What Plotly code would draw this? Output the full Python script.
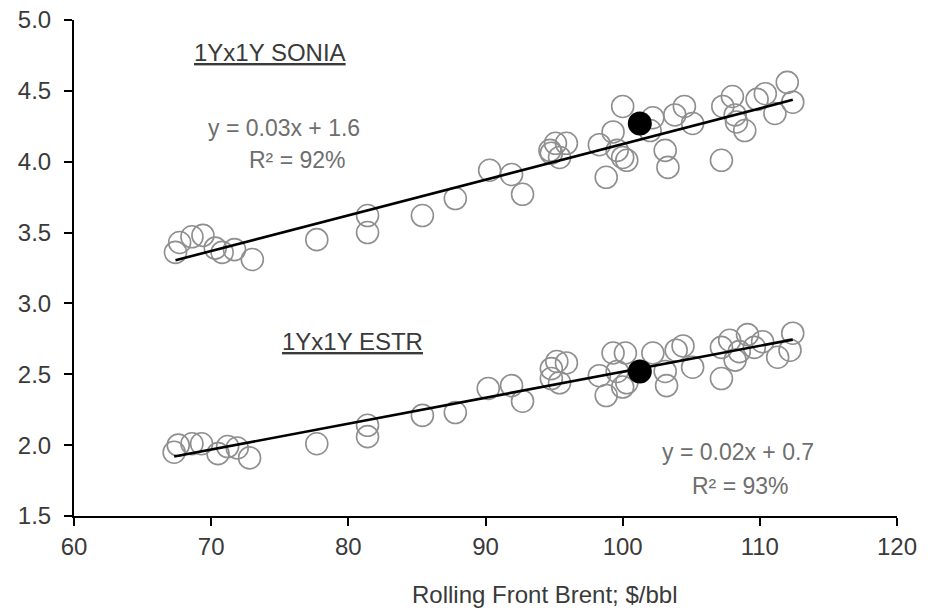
import numpy as np
import plotly.graph_objects as go

sonia_x = [67.4, 67.7, 68.6, 69.4, 70.3, 70.8, 71.7, 73.0, 77.7, 81.4, 81.4, 85.4, 87.8,
           90.3, 91.9, 92.7, 94.7, 95.1, 95.9, 95.4, 94.8, 98.3, 99.3, 98.8, 99.6, 100.0,
           100.0, 100.3, 102.0, 102.2, 103.1, 103.3, 103.8, 104.5, 105.1, 107.2, 107.3,
           108.0, 108.2, 108.3, 108.9, 109.8, 110.4, 111.1, 112.0, 112.4]
sonia_y = [3.36, 3.43, 3.47, 3.48, 3.39, 3.36, 3.38, 3.31, 3.45, 3.62, 3.50, 3.62, 3.74,
           3.94, 3.91, 3.77, 4.08, 4.13, 4.13, 4.03, 4.06, 4.12, 4.21, 3.89, 4.08, 4.03,
           4.39, 4.01, 4.22, 4.31, 4.08, 3.96, 4.33, 4.39, 4.27, 4.01, 4.39,
           4.46, 4.33, 4.28, 4.22, 4.44, 4.48, 4.34, 4.56, 4.42]

estr_x = [67.3, 67.6, 68.6, 69.3, 70.5, 71.2, 71.9, 72.8, 77.7, 81.4, 81.4, 85.4, 87.8,
          90.2, 91.9, 92.7, 94.8, 95.2, 95.9, 94.8, 95.4, 98.3, 99.3, 98.8, 99.6, 100.0,
          100.2, 100.3, 102.2, 103.2, 103.1, 103.9, 104.4, 105.1, 107.2, 107.2, 107.8,
          108.2, 108.5, 109.1, 109.6, 110.2, 111.3, 112.2, 112.4]
estr_y = [1.95, 2.00, 2.01, 2.01, 1.94, 1.99, 1.98, 1.91, 2.01, 2.14, 2.06, 2.21, 2.23,
          2.40, 2.42, 2.31, 2.54, 2.59, 2.58, 2.47, 2.44, 2.49, 2.65, 2.35, 2.52, 2.41,
          2.65, 2.44, 2.65, 2.42, 2.52, 2.67, 2.70, 2.55, 2.47, 2.69, 2.74,
          2.60, 2.66, 2.78, 2.69, 2.73, 2.62, 2.67, 2.79]

latest_x = [101.25, 101.25]
latest_y = [4.27, 2.52]

x_ticks = [60, 70, 80, 90, 100, 110, 120]
y_ticks = [1.5, 2.0, 2.5, 3.0, 3.5, 4.0, 4.5, 5.0]

FONT = "Liberation Sans, Arial, sans-serif"
DARK = "#3a3a3a"
GRAY = "#6e6e6e"

fig = go.Figure()

for xs, ys in [(sonia_x, sonia_y), (estr_x, estr_y)]:
    fig.add_trace(go.Scatter(
        x=xs, y=ys, mode="markers",
        marker=dict(symbol="circle-open", size=22, color="#8f8f8f", line=dict(width=1.6)),
        showlegend=False, hoverinfo="skip"))

for xs, ys in [(sonia_x, sonia_y), (estr_x, estr_y)]:
    m, b = np.polyfit(xs, ys, 1)
    lx = np.array([min(xs), max(xs)])
    fig.add_trace(go.Scatter(
        x=lx, y=m * lx + b, mode="lines",
        line=dict(color="black", width=2.6), showlegend=False, hoverinfo="skip"))

fig.add_trace(go.Scatter(
    x=latest_x, y=latest_y, mode="markers",
    marker=dict(symbol="circle", size=24, color="black"),
    showlegend=False, hoverinfo="skip"))

txt = dict(family=FONT, size=24, color=DARK)
gray = dict(family=FONT, size=23, color=GRAY)
annos = [
    dict(x=74.3, y=4.77, text="<u>1Yx1Y SONIA</u>", font=txt),
    dict(x=75.3, y=4.24, text="y = 0.03x + 1.6", font=gray),
    dict(x=76.3, y=4.01, text="R² = 92%", font=gray),
    dict(x=80.3, y=2.73, text="<u>1Yx1Y ESTR</u>", font=txt),
    dict(x=108.4, y=1.95, text="y = 0.02x + 0.7", font=gray),
    dict(x=108.6, y=1.71, text="R² = 93%", font=gray),
]
for a in annos:
    fig.add_annotation(xref="x", yref="y", showarrow=False, xanchor="center", yanchor="middle", **a)

fig.add_annotation(xref="paper", yref="paper", x=0.572, y=-0.159, showarrow=False,
                   xanchor="center", yanchor="middle", text="Rolling Front Brent; $/bbl",
                   font=dict(family=FONT, size=24, color=DARK))

fig.update_layout(
    width=930, height=611,
    margin=dict(l=74, r=33, t=20, b=95),
    paper_bgcolor="white", plot_bgcolor="white",
    font=dict(family=FONT, size=24, color=DARK),
    xaxis=dict(range=[60, 120], tickvals=x_ticks, ticktext=[str(v) for v in x_ticks],
               showgrid=False, zeroline=False, showline=True, linecolor="black", linewidth=2,
               ticks="outside", ticklen=8, tickwidth=2, tickcolor="black",
               automargin=False,
               tickfont=dict(family=FONT, size=24, color=DARK)),
    yaxis=dict(range=[1.5, 5.0], tickvals=y_ticks, ticktext=[f"{v:.1f}" for v in y_ticks],
               showgrid=False, zeroline=False, showline=True, linecolor="black", linewidth=2,
               ticks="outside", ticklen=8, tickwidth=2, tickcolor="black",
               ticklabelstandoff=8, automargin=False, ticklabeloverflow="allow",
               tickfont=dict(family=FONT, size=24, color=DARK)),
)

fig.write_html("out.html",
               config={"displayModeBar": False},
               post_script="document.body.style.margin='0';document.body.style.overflow='hidden';")
